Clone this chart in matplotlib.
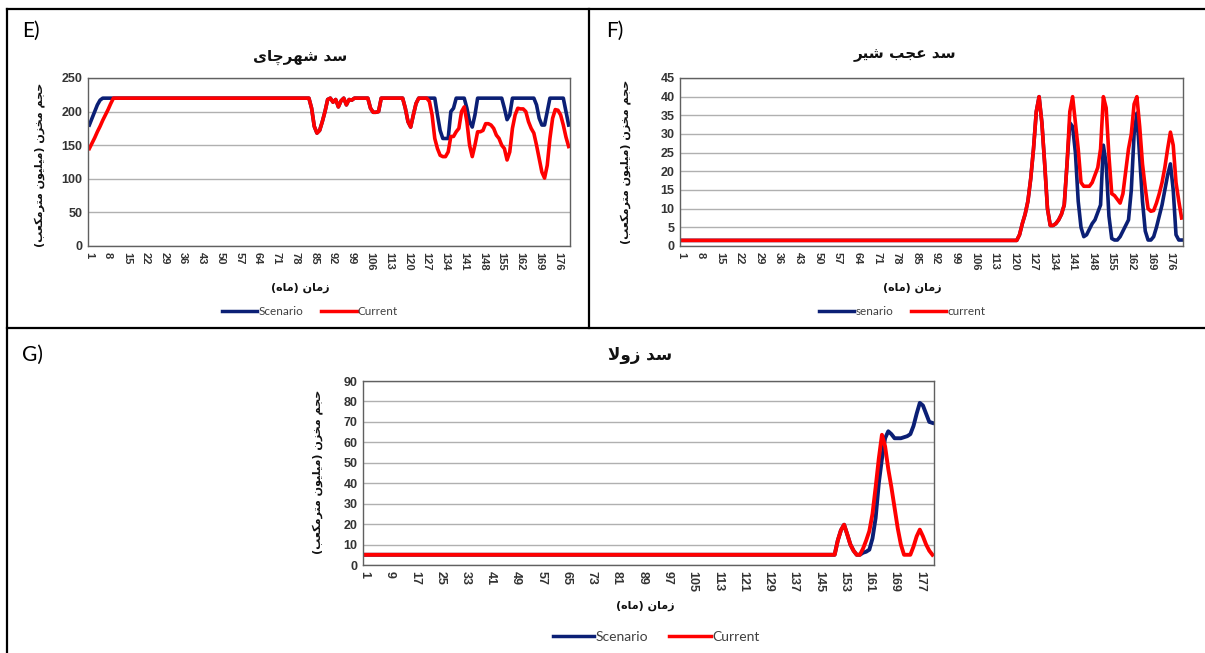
import matplotlib
matplotlib.use("Agg")
import matplotlib.pyplot as plt
from matplotlib.lines import Line2D

# ---------------- data ----------------
months_E = list(range(1, 181))
scenario_E = ([180, 190, 200, 210, 217] + [220] * 78 +
              [205, 178, 168, 172, 185, 200, 218, 220, 214, 218, 207, 216, 220, 210, 218, 217,
               220, 220, 220, 220, 220, 220, 205, 199, 199, 200, 220] + [220] * 8 +
              [205, 185, 177, 195, 212, 220] + [220] * 5 +
              [220, 195, 172, 160, 160, 160, 200, 205, 220, 220, 220, 220, 205, 185, 177, 195, 220] +
              [220] * 9 + [205, 188, 195, 220] + [220] * 8 +
              [210, 190, 180, 180, 200, 220] + [220] * 5 + [200, 180])
current_E = ([145, 153, 161, 170, 178, 187, 195, 203, 212, 220] + [220] * 73 +
             [205, 178, 168, 172, 185, 200, 218, 220, 214, 218, 207, 216, 220, 210, 218, 217,
              220, 220, 220, 220, 220, 220, 205, 199, 199, 200, 220] + [220] * 8 +
             [205, 185, 177, 195, 212, 220] + [220, 220] +
             [220, 215, 195, 160, 145, 135, 133, 133, 140, 163, 163, 170, 175, 200, 207, 185,
              150, 133, 150, 170, 170, 172, 182, 182, 180, 175, 165, 160, 150, 145, 128, 140,
              175, 195, 205, 204, 204, 200, 185, 175, 168, 150, 130, 110, 101, 120, 160, 190,
              203, 202, 195, 180, 162, 148])

months_F = list(range(1, 181))
current_F = ([1.5] * 121 +
             [3, 6, 8.5, 12, 18, 26, 36, 40, 33, 22, 10, 5.5, 5.5, 6, 7, 8.5, 11, 22, 36] +
             [40, 33, 26, 17, 16, 16, 16, 17, 19, 21, 26, 40, 37, 24, 14, 13.5, 12.5, 11.5, 14, 20,
              26, 30, 38, 40, 32, 22, 15.5, 10, 9.3, 9.5, 11.5, 14, 17, 21, 26, 30.5, 27, 17, 12, 7.5])
senario_F = ([1.5] * 121 +
             [3, 6, 8.5, 12, 18, 26, 36, 40, 33, 22, 10, 5.5, 5.5, 6, 7, 8.5, 11, 22] +
             [33, 32, 25, 12, 5, 2.5, 3, 4.5, 6, 7, 9, 11, 27, 22, 8, 2, 1.6, 1.6, 2.5, 4,
              5.5, 7, 15, 30, 35.6, 24, 12, 4, 1.6, 1.6, 2.5, 5, 8, 11, 15, 19, 22, 15, 3, 1.6, 1.6])

months_G = list(range(1, 182))
current_G = ([5] * 150 +
             [12, 17, 19.7, 15, 10, 7, 5, 5, 8, 12, 16.6, 25, 38, 52, 63.7, 58, 47, 38, 28, 18,
              10, 5, 5, 5, 9, 14, 17.3, 14, 10, 7, 5])
scenario_G = ([5] * 150 + [12, 17, 19.7, 15, 10, 7, 5, 5] +
              [6, 6.5, 7.5, 13, 23, 40, 52, 62, 65.4, 64, 62, 62, 62, 62.5, 63, 64, 68, 74, 79.3,
               78, 74, 70, 69.5])

ticks_EF = list(range(1, 181, 7))
ticks_G = list(range(1, 182, 8))

title_E = "سد شهرچای"
title_F = "سد عجب شیر"
title_G = "سد زولا"
ylabel_fa = "حجم مخزن (میلیون مترمکعب)"
xlabel_fa = "زمان (ماه)"

# ---------------- minimal Persian shaping ----------------
FORMS = {
    'ا': ('\uFE8D', '\uFE8E', None, None),
    'ب': ('\uFE8F', '\uFE90', '\uFE91', '\uFE92'),
    'ت': ('\uFE95', '\uFE96', '\uFE97', '\uFE98'),
    'ج': ('\uFE9D', '\uFE9E', '\uFE9F', '\uFEA0'),
    'ح': ('\uFEA1', '\uFEA2', '\uFEA3', '\uFEA4'),
    'خ': ('\uFEA5', '\uFEA6', '\uFEA7', '\uFEA8'),
    'د': ('\uFEA9', '\uFEAA', None, None),
    'ر': ('\uFEAD', '\uFEAE', None, None),
    'ز': ('\uFEAF', '\uFEB0', None, None),
    'س': ('\uFEB1', '\uFEB2', '\uFEB3', '\uFEB4'),
    'ش': ('\uFEB5', '\uFEB6', '\uFEB7', '\uFEB8'),
    'ع': ('\uFEC9', '\uFECA', '\uFECB', '\uFECC'),
    'ل': ('\uFEDD', '\uFEDE', '\uFEDF', '\uFEE0'),
    'م': ('\uFEE1', '\uFEE2', '\uFEE3', '\uFEE4'),
    'ن': ('\uFEE5', '\uFEE6', '\uFEE7', '\uFEE8'),
    'ه': ('\uFEE9', '\uFEEA', '\uFEEB', '\uFEEC'),
    'و': ('\uFEED', '\uFEEE', None, None),
    'ی': ('\uFBFC', '\uFBFD', '\uFBFE', '\uFBFF'),
    'چ': ('\uFB7A', '\uFB7B', '\uFB7C', '\uFB7D'),
    'ک': ('\uFB8E', '\uFB8F', '\uFB90', '\uFB91'),
}


def shape(text):
    chars = list(text)
    n = len(chars)
    dual = lambda c: c in FORMS and FORMS[c][2] is not None
    res = []
    i = 0
    while i < n:
        c = chars[i]
        if c not in FORMS:
            res.append(c)
            i += 1
            continue
        prev = chars[i - 1] if i > 0 else None
        conn_prev = prev is not None and dual(prev)
        if c == 'ل' and i + 1 < n and chars[i + 1] == 'ا':
            res.append('\uFEFC' if conn_prev else '\uFEFB')
            i += 2
            continue
        nxt = chars[i + 1] if i + 1 < n else None
        conn_next = dual(c) and nxt is not None and nxt in FORMS
        iso, fin, ini, med = FORMS[c]
        if conn_prev and conn_next:
            f = med
        elif conn_prev:
            f = fin
        elif conn_next:
            f = ini
        else:
            f = iso
        res.append(f)
        i += 1
    return ''.join(res)[::-1].translate(str.maketrans('()', ')('))


# ---------------- figure ----------------
W, H = 1205, 653
fig = plt.figure(figsize=(W / 100, H / 100), dpi=100)
fig.patch.set_facecolor('white')

NAVY = '#0B1F75'
RED = '#FF0000'
FA = ['DejaVu Sans']
LAT = ['Lato', 'DejaVu Sans']
LW = 2.6


def fx(x):
    return x / W


def fy(y):
    return 1 - y / H


def make_axes(l, t, r, b):
    return fig.add_axes([fx(l), fy(b), fx(r) - fx(l), fy(t) - fy(b)])


def style(ax, ylim, yticks, xticks, xlim, tick_fs=8):
    ax.set_xlim(*xlim)
    ax.set_ylim(*ylim)
    ax.set_yticks(yticks)
    ax.set_xticks(xticks)
    ax.set_xticklabels([str(t) for t in xticks], rotation=-90, fontsize=tick_fs,
                       fontweight='bold', color='#333333', family=['Liberation Sans'])
    ax.set_yticklabels([str(t) for t in yticks], fontsize=9, fontweight='bold',
                       color='#333333', family=['Liberation Sans'])
    ax.tick_params(length=0, pad=4)
    ax.grid(axis='y', color='#B0B0B0', lw=1)
    ax.set_axisbelow(True)
    for s in ax.spines.values():
        s.set_color('#606060')
        s.set_linewidth(1)


# ---- E ----
axE = make_axes(88, 78, 570, 246)
axE.plot(months_E, scenario_E, color=NAVY, lw=LW, solid_joinstyle='round')
axE.plot(months_E, current_E, color=RED, lw=LW, solid_joinstyle='round')
style(axE, (0, 250), list(range(0, 251, 50)), ticks_EF, (0.5, 180.5))

# ---- F ----
axF = make_axes(680, 78, 1183, 246)
axF.plot(months_F, senario_F, color=NAVY, lw=LW, solid_joinstyle='round')
axF.plot(months_F, current_F, color=RED, lw=LW, solid_joinstyle='round')
style(axF, (0, 45), list(range(0, 46, 5)), ticks_EF, (0.5, 180.5))

# ---- G ----
axG = make_axes(363, 381, 934, 565)
axG.plot(months_G, scenario_G, color=NAVY, lw=2.8, solid_joinstyle='round')
axG.plot(months_G, current_G, color=RED, lw=2.8, solid_joinstyle='round')
style(axG, (0, 90), list(range(0, 91, 10)), ticks_G, (0.5, 181.5), tick_fs=9)

# ---- titles / labels ----
for (x, y, t, fs) in [(300, 57, title_E, 11), (905, 55, title_F, 11), (640, 355, title_G, 12)]:
    fig.text(fx(x), fy(y), shape(t), ha='center', va='center', fontsize=fs,
             fontweight='bold', family=FA, color='#111111')

for (x, y) in [(40, 165), (626, 162), (318, 472)]:
    fig.text(fx(x), fy(y), shape(ylabel_fa), ha='center', va='center', rotation=90,
             fontsize=8, fontweight='bold', family=FA, color='#111111')

for (x, y) in [(300, 288), (912, 288), (645, 606)]:
    fig.text(fx(x), fy(y), shape(xlabel_fa), ha='center', va='center',
             fontsize=8, fontweight='bold', family=FA, color='#111111')

# ---- panel letters ----
for (x, y, t) in [(22, 31, 'E)'), (606, 31, 'F)'), (22, 355, 'G)')]:
    fig.text(fx(x), fy(y), t, ha='left', va='center', fontsize=15, family=LAT, color='black')

# ---- legends ----
def legend(cx, cy, labels, fs):
    handles = [Line2D([], [], color=NAVY, lw=2.5), Line2D([], [], color=RED, lw=2.5)]
    fig.legend(handles, labels, loc='center', bbox_to_anchor=(fx(cx), fy(cy)), ncol=2,
               frameon=False, handlelength=3.0, handletextpad=0.1, columnspacing=1.5,
               prop={'family': LAT, 'size': fs}, labelcolor='#404040')

legend(310, 312, ['Scenario', 'Current'], 8.5)
legend(902, 312, ['senario', 'current'], 8.5)
legend(656, 637, ['Scenario', 'Current'], 10)

# ---- table borders ----
border = dict(color='black', lw=1.6, transform=fig.transFigure, clip_on=False)
fig.add_artist(Line2D([fx(7), fx(1205)], [fy(9), fy(9)], **border))
fig.add_artist(Line2D([fx(7), fx(7)], [fy(9), fy(653)], **border))
fig.add_artist(Line2D([fx(589), fx(589)], [fy(9), fy(328)], **border))
fig.add_artist(Line2D([fx(7), fx(1205)], [fy(328), fy(328)], **border))

fig.savefig('out.png', dpi=100)
